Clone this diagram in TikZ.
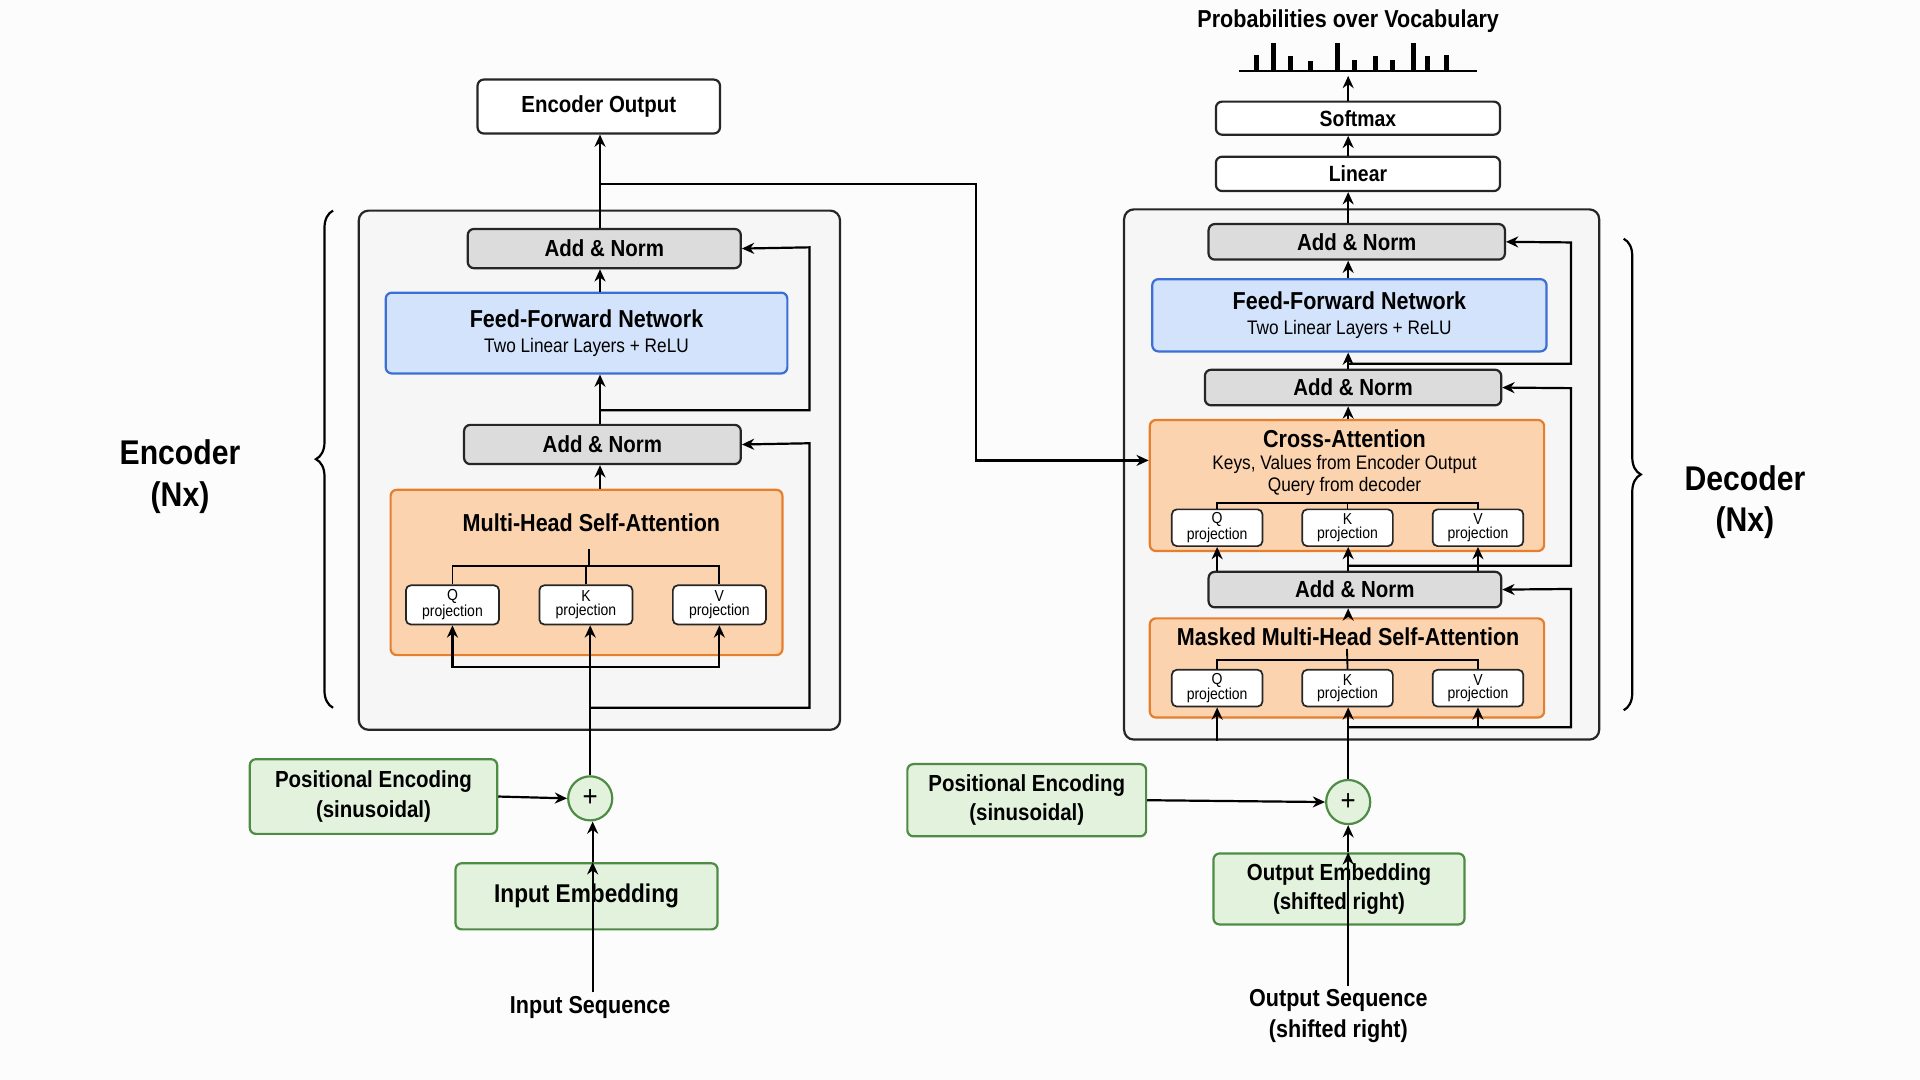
\documentclass[tikz,border=0pt]{standalone}
\usepackage{fontspec}
\setmainfont{Liberation Sans}[FakeStretch=0.88]
\usetikzlibrary{arrows.meta,decorations.pathreplacing}
\definecolor{pagebg}{HTML}{FCFCFC}
\definecolor{blockbg}{HTML}{F6F6F6}
\definecolor{normfill}{HTML}{DCDCDC}
\definecolor{ofill}{HTML}{FBD3AE}
\definecolor{oline}{HTML}{E57F2E}
\definecolor{bfill}{HTML}{D3E3FB}
\definecolor{bline}{HTML}{3B6FD6}
\definecolor{gfill}{HTML}{E3F2DD}
\definecolor{gline}{HTML}{4E8C45}
\tikzset{
 base/.style={rectangle,rounded corners=5pt,line width=1.8pt,draw=black!85,inner sep=0pt,align=center},
 whitebox/.style={base,fill=white,font=\bfseries\fontsize{19}{22}\selectfont},
 normbox/.style={base,fill=normfill,font=\bfseries\fontsize{19}{22}\selectfont},
 ffnbox/.style={base,fill=bfill,draw=bline,font=\fontsize{16}{22}\selectfont},
 attbox/.style={base,fill=ofill,draw=oline,font=\fontsize{16}{18}\selectfont},
 projbox/.style={base,fill=white,line width=1.4pt,rounded corners=4pt,minimum width=76pt,minimum height=32pt,font=\fontsize{13}{11}\selectfont},
 greenbox/.style={base,fill=gfill,draw=gline,font=\bfseries\fontsize{19}{24}\selectfont},
 blockbox/.style={base,fill=blockbg,line width=1.8pt,rounded corners=8pt},
 plusc/.style={circle,draw=gline,fill=gfill,line width=1.8pt,minimum size=36pt,inner sep=0pt,font=\fontsize{24}{24}\selectfont},
 arr/.style={line width=1.8pt,-{Stealth[length=10pt,width=9pt]}},
 ln/.style={line width=1.8pt},
 thin/.style={line width=1.5pt},
 lbl/.style={font=\bfseries\fontsize{20}{25}\selectfont,align=center},
 big/.style={font=\bfseries\fontsize{28}{34}\selectfont,align=center},
}
\begin{document}
\begin{tikzpicture}[x=1pt,y=-1pt]
\fill[pagebg] (0,0) rectangle (1568,882);
\useasboundingbox (0,0) rectangle (1568,882);
% ---------- Encoder ----------
\node[blockbox,minimum width=393pt,minimum height=424pt] (encbg) at (489.5,384) {};
\node[whitebox,minimum width=198pt,minimum height=44pt] (eo) at (489,87) {Encoder Output};
\node[normbox,minimum width=223pt,minimum height=32pt] (ean2) at (493.5,203) {Add \& Norm};
\node[ffnbox,minimum width=328pt,minimum height=66pt] (effn) at (479,272) {{\bfseries\fontsize{20}{24}\selectfont Feed-Forward Network}\\[-1pt]Two Linear Layers + ReLU};
\node[normbox,minimum width=226pt,minimum height=32pt] (ean1) at (492,363) {Add \& Norm};
\node[attbox,minimum width=320pt,minimum height=135pt] (emha) at (479,467.5) {};
\node[font=\bfseries\fontsize{20}{24}\selectfont] (emhat) at (483,427) {Multi-Head Self-Attention};
\node[projbox] (eq) at (369.5,494) {Q\\projection};
\node[projbox] (ek) at (478.5,494) {K\\projection};
\node[projbox] (ev) at (587.5,494) {V\\projection};
\coordinate (eb) at (481,462);
\coordinate (ebt) at (481,448);
\draw[thin] (eq.north) |- (eb) -| (ev.north);
\draw[thin] (ebt) -- (eb);
\draw[thin] (ek.north) -- (ek.north |- eb);
\node[plusc] (eplus) at (482,652) {+};
\node[greenbox,font=\fontsize{19}{24}\selectfont\bfseries,minimum width=202pt,minimum height=61pt] (epe) at (305,650.5) {Positional Encoding\\(sinusoidal)};
\node[greenbox,minimum width=214pt,minimum height=54pt,font=\bfseries\fontsize{21}{24}\selectfont] (eie) at (479,732) {Input Embedding};
\node[lbl] (eis) at (482,823) {Input Sequence};
\node[big] (enc) at (147,389) {Encoder\\(Nx)};
\draw[ln,decorate,decoration={brace,amplitude=14pt}] (272,578) -- (272,172);
\coordinate (ex) at (490,0);
\coordinate (exk) at (482,0);
\draw[arr] (eis.north -| 484,0) -- (eie.north -| 484,0);
\draw[arr] (eie.north -| 484,0) -- (eplus.south -| 484,0);
\draw[arr] (epe.east) -- (eplus.west);
\coordinate (ein) at (482,545);
\coordinate (eres1) at (482,578);
\draw[ln] (eplus.north) -- (eres1);
\draw[arr] (eres1) -- (ek.south -| exk);
\draw[arr] (ein) -| (eq.south);
\draw[arr] (ein) -| (ev.south);
\draw[arr] (eres1) -| (661,362) -- (ean1.east);
\draw[arr] (emha.north -| ex) -- (ean1.south -| ex);
\draw[arr] (ean1.north -| ex) -- (effn.south -| ex);
\coordinate (eres2) at (490,335);
\draw[arr] (eres2) -| (661,202) -- (ean2.east);
\draw[arr] (effn.north -| ex) -- (ean2.south -| ex);
\draw[arr] (ean2.north -| ex) -- (eo.south -| ex);
% ---------- Decoder ----------
\node[blockbox,minimum width=388pt,minimum height=433pt] (decbg) at (1112,387.5) {};
\node[lbl] (prob) at (1101,17) {Probabilities over Vocabulary};
\coordinate (bar0) at (1012,58);
\coordinate (bar1) at (1206,58);
\draw[ln] (bar0) -- (bar1);
\foreach \x/\t in {1026/45,1040/35,1054/46,1070/50,1092/35,1106/49,1123/46,1137/49,1154/35,1166/46,1181/45}
  \draw[line width=4pt] (\x,58) -- (\x,\t);
\node[whitebox,minimum width=232pt,minimum height=27pt,font=\bfseries\fontsize{18}{22}\selectfont] (soft) at (1109,96.5) {Softmax};
\node[whitebox,minimum width=232pt,minimum height=28pt,font=\bfseries\fontsize{18}{22}\selectfont] (lin) at (1109,142) {Linear};
\node[normbox,minimum width=242pt,minimum height=29pt] (dan3) at (1108,197.5) {Add \& Norm};
\node[ffnbox,minimum width=322pt,minimum height=59pt] (dffn) at (1102,257.5) {{\bfseries\fontsize{20}{23}\selectfont Feed-Forward Network}\\[-2pt]Two Linear Layers + ReLU};
\node[normbox,minimum width=242pt,minimum height=29pt] (dan2) at (1105,316.5) {Add \& Norm};
\node[attbox,minimum width=322pt,minimum height=107pt] (dca) at (1100,396.5) {};
\node[font=\fontsize{16}{18}\selectfont,align=center] (dcat) at (1098,378) {{\bfseries\fontsize{20}{22}\selectfont Cross-Attention}\\Keys, Values from Encoder Output\\Query from decoder};
\node[projbox,minimum width=74pt,minimum height=30pt] (dcq) at (994,431) {Q\\projection};
\node[projbox,minimum width=74pt,minimum height=30pt] (dck) at (1100.5,431) {K\\projection};
\node[projbox,minimum width=74pt,minimum height=30pt] (dcv) at (1207,431) {V\\projection};
\coordinate (dcb) at (1100,411);
\draw[thin] (dcq.north) |- (dcb) -| (dcv.north);
\draw[thin] (dck.north) -- (dck.north |- dcb);
\node[normbox,minimum width=239pt,minimum height=29pt] (dan1) at (1106.5,481.5) {Add \& Norm};
\node[attbox,minimum width=322pt,minimum height=81pt] (dmm) at (1100,545.5) {};
\node[font=\bfseries\fontsize{20}{22}\selectfont] (dmmt) at (1101,520) {Masked Multi-Head Self-Attention};
\node[projbox,minimum width=74pt,minimum height=30pt] (dmq) at (994,562) {Q\\projection};
\node[projbox,minimum width=74pt,minimum height=30pt] (dmk) at (1100.5,562) {K\\projection};
\node[projbox,minimum width=74pt,minimum height=30pt] (dmv) at (1207,562) {V\\projection};
\coordinate (dmb) at (1100,539);
\coordinate (dmbt) at (1100,530);
\draw[thin] (dmq.north) |- (dmb) -| (dmv.north);
\draw[thin] (dmbt) -- (dmk.north);
\node[plusc] (dplus) at (1101,655) {+};
\node[greenbox,minimum width=195pt,minimum height=59pt] (dpe) at (838.5,653.5) {Positional Encoding\\(sinusoidal)};
\node[greenbox,minimum width=205pt,minimum height=58pt] (doe) at (1093.5,726) {Output Embedding\\(shifted right)};
\node[lbl] (dos) at (1093,830) {Output Sequence\\(shifted right)};
\node[big] (dec) at (1425,410) {Decoder\\(Nx)};
\draw[ln,decorate,decoration={brace,amplitude=14pt}] (1326,195) -- (1326,580);
\coordinate (dx) at (1101,0);
\draw[arr] (dos.north -| dx) -- (doe.north -| dx);
\draw[arr] (doe.north -| dx) -- (dplus.south);
\draw[arr] (dpe.east) -- (dplus.west);
\coordinate (dres1) at (1101,594);
\draw[ln] (dplus.north) -- (dres1);
\draw[arr] (dres1) -- (dmk.south -| dx);
\draw[arr] (decbg.south -| dmq) -- (dmq.south);
\draw[arr] (dres1) -| (dmv.south);
\draw[arr] (dres1) -| (1283,481) -- (dan1.east);
\draw[arr] (dmm.north -| dx) -- (dan1.south -| dx);
\draw[arr] (dan1.north -| dcq) -- (dcq.south);
\draw[arr] (dan1.north -| dx) -- (dck.south -| dx);
\draw[arr] (dan1.north -| dcv) -- (dcv.south);
\coordinate (dres2) at (1101,462);
\draw[arr] (dres2) -| (1283,317) -- (dan2.east);
\draw[arr] (dca.north -| dx) -- (dan2.south -| dx);
\draw[arr] (dan2.north -| dx) -- (dffn.south -| dx);
\coordinate (dres3) at (1101,297);
\draw[arr] (dres3) -| (1283,198) -- (dan3.east);
\draw[arr] (dffn.north -| dx) -- (dan3.south -| dx);
\draw[arr] (dan3.north -| dx) -- (lin.south -| dx);
\draw[arr] (lin.north -| dx) -- (soft.south -| dx);
\draw[arr] (soft.north -| dx) -- (1101,62);
% cross link
\coordinate (cr) at (490,150);
\draw[arr] (cr) -| (797,376) -- (dca.west |- 0,376);
\end{tikzpicture}
\end{document}
